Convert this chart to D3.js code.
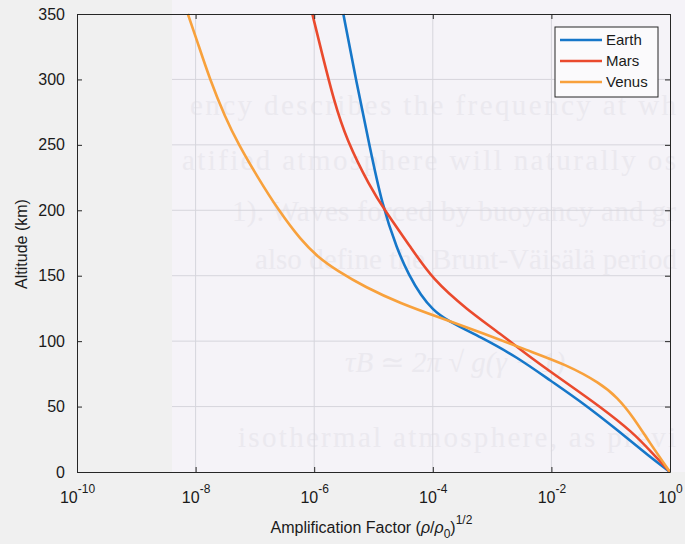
<!DOCTYPE html>
<html lang="en">
<head>
<meta charset="utf-8">
<title>Amplification factor</title>
<script src="https://cdn.jsdelivr.net/npm/d3@7"></script>
<style>
  body { margin: 0; background: #f0f0f0; }
  svg { display: block; font-family: "Liberation Sans", Arial, sans-serif; }
  .axis path, .axis line { stroke: #262626; stroke-width: 1; }
  .axis text { fill: #1a1a1a; font-size: 16px; }
  .grid line { stroke: #d6d5dc; stroke-width: 1; }
  .curve { fill: none; stroke-width: 2.6; }
  .ghost { fill: #ebe9ef; font-family: "Liberation Serif", "DejaVu Serif", serif; font-size: 29px; }
</style>
</head>
<body>
<div id="chart"></div>
<script>
// altitude (km) and amplification factor (rho/rho0)^1/2
var earthAlt = [350, 297, 248, 205, 170, 150, 135, 124, 116, 103, 88, 70, 52.7, 32, 11.5, 0];
var earthAmp = [3.1e-6, 5.2e-6, 8.7e-6, 1.38e-5, 2.5e-5, 4.0e-5, 6.3e-5, 1.0e-4, 1.7e-4, 6.5e-4, 2.6e-3, 9.5e-3, 3.4e-2, 0.13, 0.46, 1];

var marsAlt = [350, 322, 284, 254, 218, 200, 172, 147, 124, 106, 86, 68, 50, 30, 15, 0];
var marsAmp = [9.3e-7, 1.32e-6, 2.14e-6, 3.5e-6, 8.7e-6, 1.55e-5, 4.2e-5, 1.0e-4, 3.8e-4, 1.35e-3, 4.9e-3, 1.8e-2, 6.6e-2, 0.24, 0.49, 1];

var venusAlt = [350, 330, 300, 271, 251, 225, 200, 177, 164, 154, 141, 129, 118, 106, 93, 82, 68, 57, 42, 22, 0];
var venusAmp = [7.4e-9, 1.05e-8, 1.74e-8, 3.16e-8, 5.2e-8, 1.12e-7, 2.5e-7, 6.0e-7, 1.17e-6, 2.4e-6, 7.4e-6, 2.8e-5, 1.3e-4, 7.1e-4, 3.9e-3, 1.8e-2, 6.6e-2, 0.13, 0.24, 0.46, 1];

var seriesNames = ["Earth", "Mars", "Venus"];
var xTicks = [1e-10, 1e-8, 1e-6, 1e-4, 1e-2, 1];
var xTickExp = ["-10", "-8", "-6", "-4", "-2", "0"];
var yTicks = [0, 50, 100, 150, 200, 250, 300, 350];

// faint page text showing through the figure
var ghostText = [
  "ency describes the frequency at wh",
  "atified atmosphere will naturally os",
  "1). Waves forced by buoyancy and gr",
  "also define the Brunt-Väisälä period",
  "isothermal atmosphere, as previ"
];

var W = 685, H = 544;
var margin = {top: 14, right: 15, bottom: 72, left: 77};
var colors = ["#1677c9", "#ea4a2d", "#f8a13c"];

var svg = d3.select("#chart").append("svg")
    .attr("width", W)
    .attr("height", H);

var x = d3.scaleLog().domain([1e-10, 1]).range([margin.left, W - margin.right]);
var y = d3.scaleLinear().domain([0, 350]).range([H - margin.bottom, margin.top]);

// lighter scanned-page backdrop behind the right part of the plot
var pageX = 172;
svg.append("rect")
    .attr("x", pageX).attr("y", 0)
    .attr("width", W - pageX).attr("height", y(0))
    .attr("fill", "#f5f3f8");

var ghost = svg.append("g");
var ghostPos = [[190, 115, 486], [182, 170, 494], [232, 221, 444], [255, 269, 422], [238, 447, 438]];
ghostText.forEach(function(t, i) {
  var p = ghostPos[i];
  ghost.append("text").attr("class", "ghost")
      .attr("x", p[0]).attr("y", p[1])
      .attr("textLength", p[2]).attr("lengthAdjust", "spacing")
      .text(t);
});
ghost.append("text").attr("class", "ghost")
    .attr("x", 345).attr("y", 372).style("font-style", "italic")
    .text("τB ≃ 2π √ g(γ − 1)");

// grid lines (only on the page region)
var grid = svg.append("g").attr("class", "grid");
grid.selectAll(".gx").data(xTicks.slice(1, -1)).enter().append("line")
    .attr("x1", function(d) { return x(d); }).attr("x2", function(d) { return x(d); })
    .attr("y1", y(350)).attr("y2", y(0));
grid.selectAll(".gy").data(yTicks.slice(1, -1)).enter().append("line")
    .attr("y1", function(d) { return y(d); }).attr("y2", function(d) { return y(d); })
    .attr("x1", pageX).attr("x2", x(1));

// curves
var line = d3.line()
    .curve(d3.curveBasis)
    .x(function(d) { return x(d[1]); })
    .y(function(d) { return y(d[0]); });

var series = [
  d3.zip(earthAlt, earthAmp),
  d3.zip(marsAlt, marsAmp),
  d3.zip(venusAlt, venusAmp)
];

svg.selectAll(".curve").data(series).enter().append("path")
    .attr("class", "curve")
    .attr("stroke", function(d, i) { return colors[i]; })
    .attr("d", line);

// axes with inward ticks on all sides
var xb = svg.append("g").attr("class", "axis")
    .attr("transform", "translate(0," + y(0) + ")")
    .call(d3.axisBottom(x).tickValues(xTicks).tickSizeInner(-5).tickSizeOuter(0).tickFormat(""));
xb.selectAll(".tick").append("text")
    .attr("y", 31)
    .attr("text-anchor", "middle")
    .each(function(d, i) {
      var t = d3.select(this);
      t.append("tspan").text("10");
      t.append("tspan").attr("dy", -10).style("font-size", "12px").text(xTickExp[i]);
    });

svg.append("g").attr("class", "axis")
    .attr("transform", "translate(0," + y(350) + ")")
    .call(d3.axisTop(x).tickValues(xTicks).tickSizeInner(-5).tickSizeOuter(0).tickFormat(""));

svg.append("g").attr("class", "axis")
    .attr("transform", "translate(" + x(1e-10) + ",0)")
    .call(d3.axisLeft(y).tickValues(yTicks).tickSizeInner(-5).tickSizeOuter(0).tickPadding(12));

svg.append("g").attr("class", "axis")
    .attr("transform", "translate(" + x(1) + ",0)")
    .call(d3.axisRight(y).tickValues(yTicks).tickSizeInner(-5).tickSizeOuter(0).tickFormat(""));

// axis titles
var xl = svg.append("text")
    .attr("x", (x(1e-10) + x(1)) / 2 - 2)
    .attr("y", 533)
    .attr("text-anchor", "middle")
    .style("font-size", "16px")
    .attr("fill", "#1a1a1a");
xl.append("tspan").text("Amplification Factor (");
xl.append("tspan").style("font-style", "italic").text("ρ");
xl.append("tspan").text("/");
xl.append("tspan").style("font-style", "italic").text("ρ");
xl.append("tspan").attr("dy", 5).style("font-size", "12px").text("0");
xl.append("tspan").attr("dy", -5).text(")");
xl.append("tspan").attr("dy", -9).style("font-size", "12px").text("1/2");

svg.append("text")
    .attr("transform", "translate(27," + ((y(0) + y(350)) / 2 + 1) + ") rotate(-90)")
    .attr("text-anchor", "middle")
    .style("font-size", "16px")
    .attr("fill", "#1a1a1a")
    .text("Altitude (km)");

// legend
var lg = svg.append("g").attr("transform", "translate(555,27)");
lg.append("rect")
    .attr("width", 103).attr("height", 70)
    .attr("fill", "#fbfafc").attr("stroke", "#262626");
seriesNames.forEach(function(name, i) {
  var ly = 13 + i * 21;
  lg.append("line")
      .attr("x1", 5).attr("x2", 47).attr("y1", ly).attr("y2", ly)
      .attr("stroke", colors[i]).attr("stroke-width", 2.6);
  lg.append("text")
      .attr("x", 51).attr("y", ly + 5)
      .style("font-size", "15px").attr("fill", "#1a1a1a")
      .text(name);
});
</script>
</body>
</html>
